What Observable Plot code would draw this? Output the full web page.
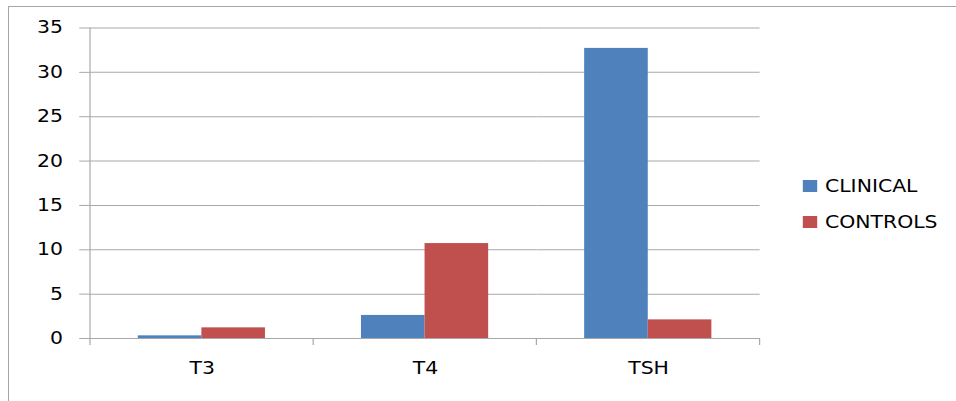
<!DOCTYPE html>
<html><head><meta charset="utf-8">
<script src="https://cdn.jsdelivr.net/npm/d3@7"></script>
<script src="https://cdn.jsdelivr.net/npm/@observablehq/plot@0.6"></script>
<style>
html,body{margin:0;padding:0;background:#fff;overflow:hidden;width:956px;height:401px}
#border{position:absolute;left:8px;top:6px;width:1200px;height:600px;border-left:1px solid #a6a6a6;border-top:1px solid #a6a6a6;box-sizing:border-box}
#wrap{position:absolute;left:0;top:0;width:797px;height:401px;transform:scaleX(1.2);transform-origin:0 0;font-family:"DejaVu Sans";}
#chart{position:absolute;left:0;top:0}
#legend{position:absolute;left:669px;top:168px;font-size:17px;color:#000}
.row{height:36px;line-height:36px;white-space:nowrap}
.sw{display:inline-block;width:12px;height:12px;margin-right:6.5px;vertical-align:middle;position:relative;top:-1px}
</style></head>
<body>
<div id="border"></div>
<div id="wrap"><div id="chart"></div><div id="legend"></div></div>
<script>
const categories = ["T3", "T4", "TSH"];
const series = ["CLINICAL", "CONTROLS"];
const clinical = [0.3, 2.6, 32.7];
const controls = [1.2, 10.7, 2.1];
const yTicks = [0, 5, 10, 15, 20, 25, 30, 35];
const colors = ["#4F81BD", "#C0504D"];

const data = categories.flatMap((c, i) => [
  {category: c, series: series[0], value: clinical[i]},
  {category: c, series: series[1], value: controls[i]}
]);

const gridColor = "#a8a8a8";

const plot = Plot.plot({
  width: 797, height: 401,
  marginLeft: 74.2, marginRight: 163, marginTop: 27.5, marginBottom: 63,
  style: {fontFamily: "DejaVu Sans", fontSize: "17px", color: "#000", background: "transparent", overflow: "visible"},
  fx: {domain: categories, padding: 0, label: null, axis: null},
  x: {domain: series, paddingInner: 0, paddingOuter: 0.75, axis: null},
  y: {domain: [0, 35], label: null, axis: null},
  color: {domain: series, range: colors},
  marks: [
    Plot.gridY(yTicks, {stroke: gridColor, strokeOpacity: 1, strokeWidth: 1}),
    Plot.barY(data, {fx: "category", x: "series", y: "value", fill: "series"}),
    Plot.axisY(yTicks, {tickSize: 9, tickPadding: 14, stroke: gridColor, strokeOpacity: 1, fill: "#000", label: null, fontSize: 17}),
    Plot.axisFx({anchor: "bottom", tickSize: 0, tickPadding: 23, label: null, fill: "#000", fontSize: 17})
  ]
});
document.getElementById("chart").appendChild(plot);

// axis line and category boundary ticks, positioned from Plot's own scales
const fx = plot.scale("fx"), y = plot.scale("y");
const svg = d3.select(plot);
const g = svg.append("g").attr("stroke", gridColor).attr("stroke-width", 1);
const y0 = y.apply(0), yTop = y.apply(35);
const x0 = fx.apply(categories[0]);
g.append("line").attr("x1", x0).attr("x2", x0).attr("y1", yTop).attr("y2", y0 + 7);
categories.forEach(c => {
  const xr = fx.apply(c) + fx.bandwidth;
  g.append("line").attr("x1", xr).attr("x2", xr).attr("y1", y0).attr("y2", y0 + 7);
});

// legend
const legend = d3.select("#legend");
series.forEach((s, i) => {
  const row = legend.append("div").attr("class", "row");
  row.append("span").attr("class", "sw").style("background", colors[i]);
  row.append("span").text(s);
});
</script>
</body></html>
